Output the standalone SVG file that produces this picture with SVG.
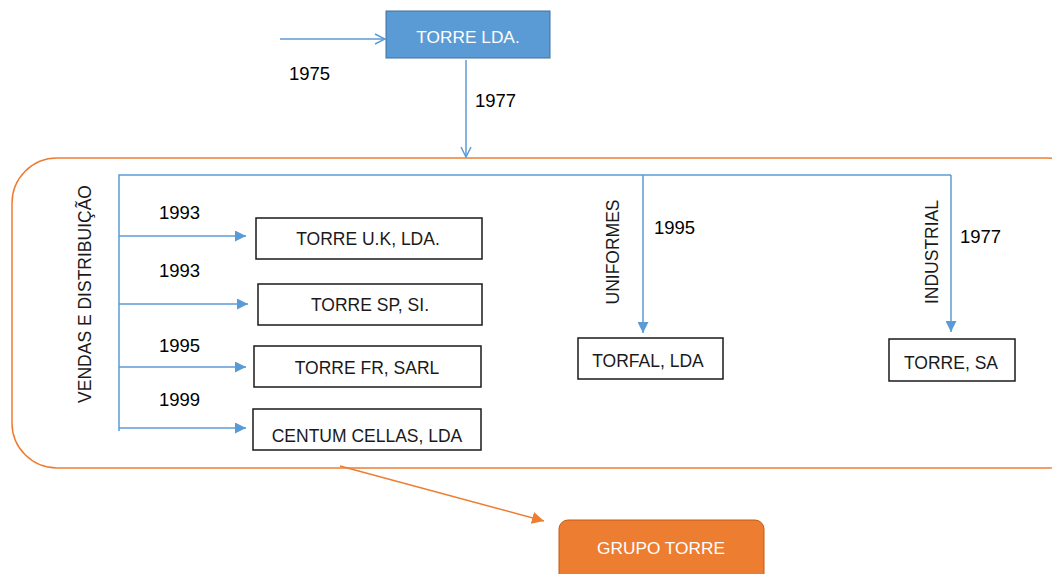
<svg xmlns="http://www.w3.org/2000/svg" width="1052" height="574" viewBox="0 0 1052 574">
<defs>
<style>
.t{font-family:"Liberation Sans",Arial,sans-serif;font-size:17.5px;fill:#1a1a1a}
.w{font-family:"Liberation Sans",Arial,sans-serif;font-size:17.3px;fill:#ffffff}
.y{font-family:"Liberation Sans",Arial,sans-serif;font-size:18.5px;fill:#000}
.box{fill:#fff;stroke:#1a1a1a;stroke-width:1.5}
.bl{stroke:#5B9BD5;stroke-width:1.5;fill:none}
.or{stroke:#ED7D31;stroke-width:1.5;fill:none}
</style>
<marker id="open" viewBox="0 0 12 12" refX="11" refY="6" markerWidth="12" markerHeight="12" markerUnits="userSpaceOnUse" orient="auto">
<path d="M1,1 L11,6 L1,11" fill="none" stroke="#5B9BD5" stroke-width="1.5"/>
</marker>
<marker id="fill" viewBox="0 0 10 10" refX="10" refY="5" markerWidth="11" markerHeight="11" markerUnits="userSpaceOnUse" orient="auto">
<path d="M0,0 L10,5 L0,10 z" fill="#5B9BD5"/>
</marker>
<marker id="ofill" viewBox="0 0 10 10" refX="10" refY="5" markerWidth="12" markerHeight="12" markerUnits="userSpaceOnUse" orient="auto">
<path d="M0,0 L10,5 L0,10 z" fill="#ED7D31"/>
</marker>
</defs>
<rect width="1052" height="574" fill="#fff"/>

<g id="container">
<rect x="12" y="158" width="1080" height="310" rx="45" ry="45" class="or"/>
</g>

<g id="connectors">
<line x1="280" y1="39" x2="385" y2="39" class="bl" marker-end="url(#open)"/>
<line x1="466" y1="60" x2="466" y2="157" class="bl" marker-end="url(#open)"/>
<polyline points="119,431 119,175 951,175" class="bl"/>
<line x1="119" y1="236" x2="246" y2="236" class="bl" marker-end="url(#fill)"/>
<line x1="119" y1="304" x2="248" y2="304" class="bl" marker-end="url(#fill)"/>
<line x1="119" y1="367" x2="246" y2="367" class="bl" marker-end="url(#fill)"/>
<line x1="119" y1="428" x2="246" y2="428" class="bl" marker-end="url(#fill)"/>
<line x1="643" y1="175" x2="643" y2="333" class="bl" marker-end="url(#fill)"/>
<line x1="951" y1="175" x2="951" y2="332" class="bl" marker-end="url(#fill)"/>
<line x1="340" y1="466" x2="544" y2="521" class="or" marker-end="url(#ofill)"/>
</g>

<g id="labels">
<text x="289" y="80" class="y" font-size="20.5">1975</text>
<text x="475" y="107" class="y">1977</text>
<text x="159" y="219" class="y">1993</text>
<text x="159" y="277" class="y">1993</text>
<text x="159" y="352" class="y">1995</text>
<text x="159" y="406" class="y">1999</text>
<text x="654" y="234" class="y">1995</text>
<text x="960" y="243" class="y">1977</text>
<text transform="translate(91,294) rotate(-90)" text-anchor="middle" class="t" font-size="18.7">VENDAS E DISTRIBUIÇÃO</text>
<text transform="translate(619,252) rotate(-90)" text-anchor="middle" class="t" font-size="19.3">UNIFORMES</text>
<text transform="translate(938,252) rotate(-90)" text-anchor="middle" class="t" font-size="19.5">INDUSTRIAL</text>
</g>

<g id="torre-lda">
<rect x="386" y="11" width="164" height="47" fill="#5B9BD5" stroke="#41719C" stroke-width="1"/>
<text x="468" y="43" text-anchor="middle" class="w">TORRE LDA.</text>
</g>
<g id="torre-uk">
<rect x="256" y="218" width="226" height="41" class="box"/>
<text x="368" y="245" text-anchor="middle" class="t">TORRE U.K, LDA.</text>
</g>
<g id="torre-sp">
<rect x="258" y="284" width="224" height="41" class="box"/>
<text x="370" y="311" text-anchor="middle" class="t">TORRE SP, SI.</text>
</g>
<g id="torre-fr">
<rect x="254" y="346" width="227" height="41" class="box"/>
<text x="367" y="374" text-anchor="middle" class="t">TORRE FR, SARL</text>
</g>
<g id="centum">
<rect x="253" y="409" width="228" height="41" class="box"/>
<text x="367" y="442" text-anchor="middle" class="t">CENTUM CELLAS, LDA</text>
</g>
<g id="torfal">
<rect x="578" y="338" width="145" height="41" class="box"/>
<text x="648" y="367" text-anchor="middle" class="t">TORFAL, LDA</text>
</g>
<g id="torre-sa">
<rect x="889" y="339" width="126" height="42" class="box"/>
<text x="951" y="369" text-anchor="middle" class="t">TORRE, SA</text>
</g>
<g id="grupo-torre">
<rect x="559" y="520" width="205" height="70" rx="9" ry="9" fill="#ED7D31" stroke="#C55A11" stroke-width="1"/>
<text x="661" y="554" text-anchor="middle" class="w">GRUPO TORRE</text>
</g>
</svg>
